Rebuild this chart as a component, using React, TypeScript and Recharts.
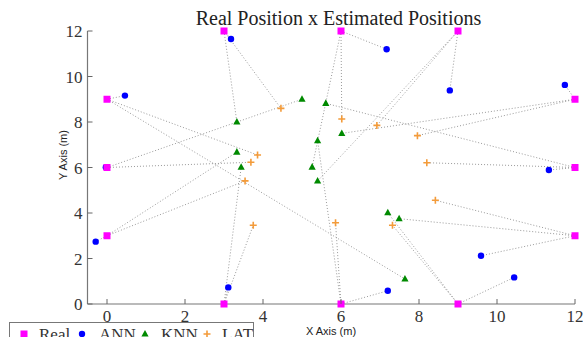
import { ScatterChart, Scatter, XAxis, YAxis, ReferenceLine } from 'recharts';

// real positions (same order is used for every estimate array)
const realX = [3, 6, 9, 0, 12, 0, 12, 0, 12, 3, 6, 9];
const realY = [12, 12, 12, 9, 9, 6, 6, 3, 3, 0, 0, 0];

const annX = [3.18, 7.17, 8.79, 0.46, 11.74, -0.03, 11.33, -0.29, 9.59, 3.11, 7.2, 10.44];
const annY = [11.65, 11.2, 9.39, 9.16, 9.63, 6.01, 5.89, 2.74, 2.12, 0.73, 0.58, 1.17];

const knnX = [3.33, 5.26, 5.4, 7.64, 6.02, 5.0, 5.61, 3.33, 7.49, 3.44, 5.4, 7.2];
const knnY = [8.0, 6.02, 5.41, 1.1, 7.5, 9.0, 8.82, 6.68, 3.75, 6.01, 7.18, 4.01];

const latX = [4.46, 6.02, 6.92, 3.86, 7.96, 3.69, 8.2, 3.54, 8.42, 3.75, 5.86, 7.32];
const latY = [8.6, 8.13, 7.85, 6.55, 7.4, 6.23, 6.21, 5.41, 4.56, 3.46, 3.57, 3.46];

const xTicks = [0, 2, 4, 6, 8, 10, 12];
const yTicks = [0, 2, 4, 6, 8, 10, 12];

const toPoints = (xs: number[], ys: number[]) => xs.map((x, i) => ({ x, y: ys[i] }));

const real = toPoints(realX, realY);
const ann = toPoints(annX, annY);
const knn = toPoints(knnX, knnY);
const lat = toPoints(latX, latY);

const serif = '"Liberation Serif", "DejaVu Serif", serif';
const sans = '"Liberation Sans", Arial, sans-serif';

const COLORS = { real: '#ff00ff', ann: '#0000ff', knn: '#008a00', lat: '#f39b3a' };

const Square = ({ cx, cy }: any) => (
  <rect x={cx - 3.5} y={cy - 3.5} width={7} height={7} fill={COLORS.real} />
);
const Dot = ({ cx, cy }: any) => <circle cx={cx} cy={cy} r={3.2} fill={COLORS.ann} />;
const Tri = ({ cx, cy }: any) => (
  <path d={`M${cx},${cy - 4} L${cx + 3.6},${cy + 2.6} L${cx - 3.6},${cy + 2.6} Z`} fill={COLORS.knn} />
);
const Plus = ({ cx, cy }: any) => (
  <path d={`M${cx - 3.5},${cy} H${cx + 3.5} M${cx},${cy - 3.5} V${cy + 3.5}`} stroke={COLORS.lat} strokeWidth={1.6} />
);

const XTick = ({ x, y, payload }: any) => (
  <g>
    <line x1={x} x2={x} y1={y} y2={y - 5} stroke="#666" />
    <text x={x} y={y + 18} textAnchor="middle" fontFamily={serif} fontSize={17} fill="#333">
      {payload.value}
    </text>
  </g>
);

const YTick = ({ x, y, payload }: any) => (
  <g>
    <line x1={x} x2={x + 5} y1={y} y2={y} stroke="#666" />
    <text x={x - 5} y={y + 6} textAnchor="end" fontFamily={serif} fontSize={17} fill="#333">
      {payload.value}
    </text>
  </g>
);

const legendItems = [
  { name: 'Real', icon: 'square', mx: 24, tx: 39 },
  { name: 'ANN', icon: 'dot', mx: 82, tx: 99 },
  { name: 'KNN', icon: 'tri', mx: 145, tx: 161 },
  { name: 'LAT', icon: 'plus', mx: 207, tx: 222 },
];

function LegendIcon({ icon, cx, cy }: { icon: string; cx: number; cy: number }) {
  if (icon === 'square') return <Square cx={cx} cy={cy} />;
  if (icon === 'dot') return <Dot cx={cx} cy={cy} />;
  if (icon === 'tri') return <Tri cx={cx} cy={cy} />;
  return <Plus cx={cx} cy={cy} />;
}

export default function App() {
  return (
    <div style={{ position: 'absolute', left: 0, top: 0, width: 583, height: 337, background: '#fff', overflow: 'hidden' }}>
      <ScatterChart width={583} height={337} margin={{ top: 31, right: 8, bottom: 0, left: 0 }}>
        <XAxis
          type="number"
          dataKey="x"
          domain={[-0.5, 12]}
          ticks={xTicks}
          height={33}
          tickSize={0}
          tickMargin={0}
          tick={<XTick />}
          axisLine={{ stroke: '#777', strokeWidth: 1.2 }}
        />
        <YAxis
          type="number"
          dataKey="y"
          domain={[0, 12]}
          ticks={yTicks}
          width={87.5}
          tickSize={0}
          tickMargin={0}
          tick={<YTick />}
          axisLine={{ stroke: '#777', strokeWidth: 1.2 }}
        />
        {real.map((r, i) =>
          [ann[i], knn[i], lat[i]].map((e, j) => (
            <ReferenceLine
              key={`l${i}-${j}`}
              segment={[{ x: r.x, y: r.y }, { x: e.x, y: e.y }]}
              stroke="#9a9a9a"
              strokeDasharray="1 2"
              ifOverflow="visible"
            />
          ))
        )}
        <Scatter name="ANN" data={ann} shape={<Dot />} isAnimationActive={false} />
        <Scatter name="KNN" data={knn} shape={<Tri />} isAnimationActive={false} />
        <Scatter name="LAT" data={lat} shape={<Plus />} isAnimationActive={false} />
        <Scatter name="Real" data={real} shape={<Square />} isAnimationActive={false} />
      </ScatterChart>
      <svg width={583} height={337} style={{ position: 'absolute', left: 0, top: 0, pointerEvents: 'none' }}>
        <text x={338.5} y={25} textAnchor="middle" fontFamily={serif} fontSize={20} fill="#222">
          Real Position x Estimated Positions
        </text>
        <text x={331} y={334.5} textAnchor="middle" fontFamily={sans} fontSize={11} fill="#222">
          X Axis (m)
        </text>
        <text
          x={67}
          y={155}
          textAnchor="middle"
          fontFamily={sans}
          fontSize={11}
          fill="#222"
          transform="rotate(-90 67 155)"
        >
          Y Axis (m)
        </text>
        <rect x={9.5} y={322.5} width={244} height={30} fill="#fff" stroke="#777" />
        {legendItems.map((it) => (
          <g key={it.name}>
            <LegendIcon icon={it.icon} cx={it.mx} cy={334} />
            <text x={it.tx} y={340} fontFamily={serif} fontSize={17} fill="#333">
              {it.name}
            </text>
          </g>
        ))}
      </svg>
    </div>
  );
}
